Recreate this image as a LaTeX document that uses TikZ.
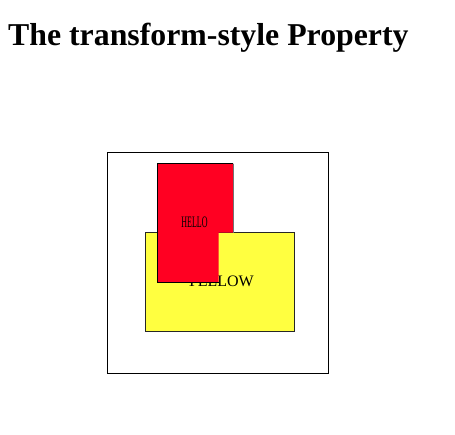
\documentclass[tikz,border=0pt]{standalone}
\usepackage{fontspec}
\setmainfont{Liberation Serif}
\definecolor{boxyellow}{RGB}{255,255,64}
\definecolor{boxred}{RGB}{255,0,34}
\tikzset{
  frame/.style={draw=black, line width=0.9pt},
  edgeline/.style={draw=black, line width=1pt},
}
\begin{document}
\begin{tikzpicture}[x=1pt,y=-1pt]
\useasboundingbox (0,0) rectangle (455,434);
% title
\node[anchor=base west, inner sep=0pt, font=\fontsize{31.8}{36}\selectfont\bfseries] (title) at (8,45) {The transform-style Property};
% outer container
\draw[frame] (107.5,152.5) rectangle (328.5,373.5);
\coordinate (outerc) at (218,263);
% yellow box
\filldraw[fill=boxyellow, draw=black!85, line width=0.9pt] (145,232.5) rectangle (294,331);
\node[font=\fontsize{16}{18}\selectfont, inner sep=0pt] (yellow) at (220,281.5) {YELLOW};
% red box (L shaped, intersecting the yellow box)
\fill[boxred] (157,163.5) -- (233.3,163.5) -- (233.3,232.5) -- (218.7,232.5) -- (218.7,282.3) -- (157,282.3) -- cycle;
\draw[edgeline] (233.3,163.5) -- (157,163.5) -- (157,282.3) -- (218.7,282.3);
\draw[draw=black!55, line width=0.7pt] (233.3,163.5) -- (233.3,232.5);
\node[font=\fontsize{16}{18}\selectfont, inner sep=0pt, xscale=0.5] (hello) at (194.5,222) {HELLO};
\end{tikzpicture}
\end{document}
